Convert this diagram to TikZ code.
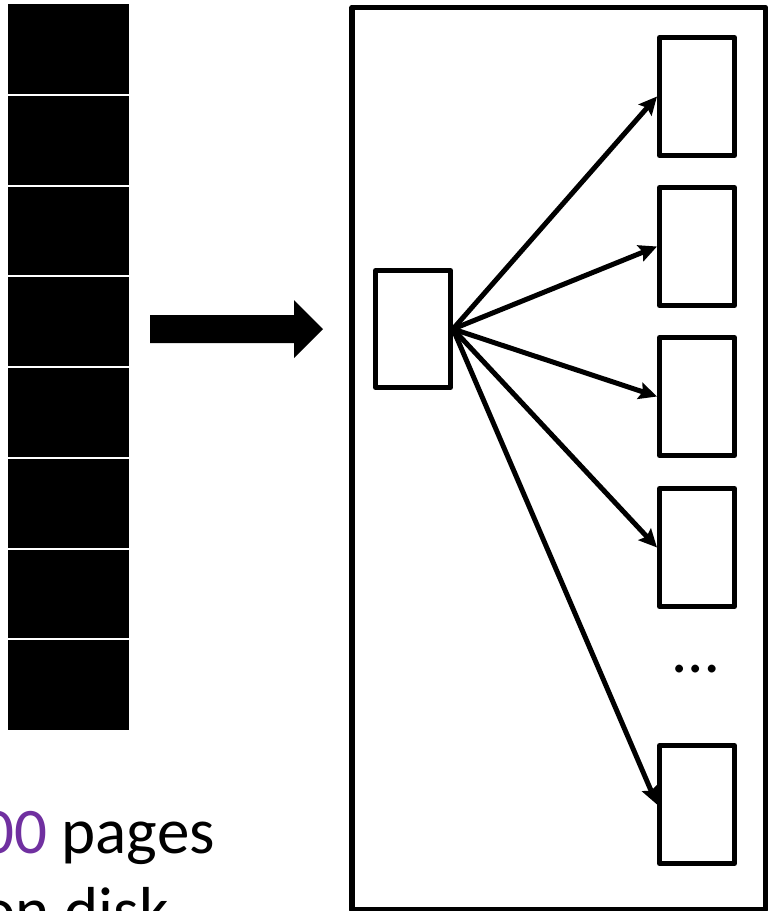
\documentclass[tikz,border=0pt]{standalone}
\usepackage{fontspec}
\setmainfont{Carlito}
\usepackage{xcolor}
\usetikzlibrary{arrows.meta}
\definecolor{diskpurple}{RGB}{112,48,160}

\tikzset{
  pagebox/.style={draw, line width=5pt, minimum width=75pt, minimum height=118pt, inner sep=0pt},
  link/.style={line width=5pt, -{Stealth[length=18pt,width=17pt,inset=3pt]}},
  bigtext/.style={font=\fontsize{65}{79}\selectfont, inner sep=0pt},
}

\begin{document}
\begin{tikzpicture}[x=1pt, y=-1pt, line join=round]
        \useasboundingbox (0,0) rectangle (769,911);
        \clip (0,0) rectangle (769,911);

        % pages on disk (black column)
        \fill (8,4) rectangle (129,730);
        \foreach \i in {1,...,7}
            \draw[white, line width=2pt] (8,{4+90.75*\i}) -- (129,{4+90.75*\i});

        % caption
        \node[bigtext, anchor=base east] (count) at (215,853) {\textcolor{diskpurple}{00} pages};
        \node[bigtext, anchor=base east] (where) at (169,932) {on disk};

        % fat arrow
        \fill (150,315) -- (294,315) -- (294,300) -- (323,329) -- (294,358) -- (294,343) -- (150,343) -- cycle;

        % frame
        \draw[line width=5.5pt] (352,7.5) rectangle (765.5,910);

        % root and child pages
        \node[pagebox, minimum height=117pt] (root) at (413,329) {};
        \node[pagebox] (p1) at (697,96.5) {};
        \node[pagebox] (p2) at (697,246.5) {};
        \node[pagebox] (p3) at (697,396.5) {};
        \node[pagebox] (p4) at (697,547.5) {};
        \node[pagebox] (pn) at (697,804.5) {};
        \node[bigtext, anchor=base] (more) at (696,672.6) {…};

        % links
        \foreach \c in {p1,p2,p3,p4,pn}
            \draw[link] (root.east) -- (\c.west);
    \end{tikzpicture}
\end{document}
